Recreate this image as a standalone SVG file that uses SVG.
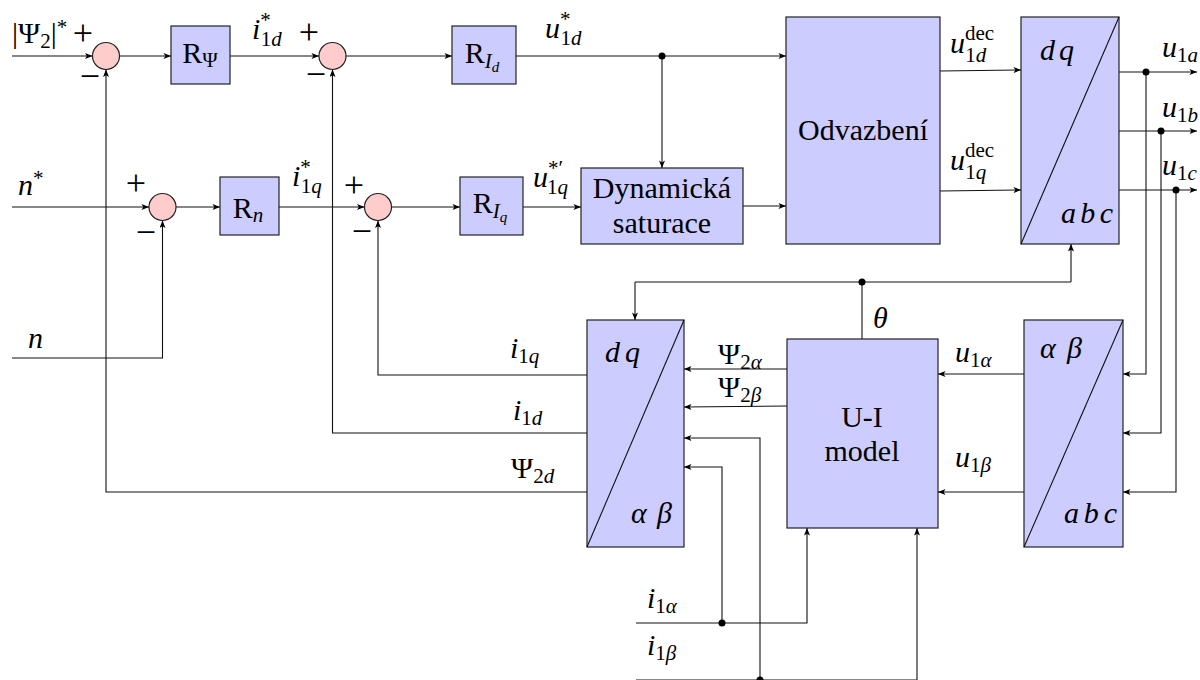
<svg xmlns="http://www.w3.org/2000/svg" width="1200" height="680" viewBox="0 0 1200 680">
<style>
.blk{fill:#ccccff;stroke:#222;stroke-width:1.2}
.sum{fill:#ffcccc;stroke:#222;stroke-width:1.2}
.ln{fill:none;stroke:#111;stroke-width:1.1}
.ar{fill:none;stroke:#111;stroke-width:1.1;marker-end:url(#a)}
.dot{fill:#000}
.t{font-family:"Liberation Serif",serif;font-size:30px;fill:#000}
.pm{font-family:"Liberation Serif",serif;font-size:36px;fill:#000;text-anchor:middle}
.m{font-style:italic}
.s{font-size:21px}
.ss{font-size:15px}
</style>
<defs>
<marker id="a" viewBox="0 0 10 8" refX="10" refY="4" markerWidth="8" markerHeight="6" orient="auto" markerUnits="userSpaceOnUse"><path d="M0,0 L10,4 L0,8 L2.5,4 z" fill="#000"/></marker>
</defs>

<g id="connectors">
<line class="ar" x1="12" y1="56" x2="92.5" y2="56"/>
<line class="ar" x1="119.5" y1="56" x2="171" y2="56"/>
<line class="ar" x1="230" y1="56" x2="319" y2="56"/>
<line class="ar" x1="346" y1="56" x2="452" y2="56"/>
<line class="ar" x1="516" y1="56" x2="786" y2="56"/>
<line class="ar" x1="662" y1="56" x2="662" y2="168"/>
<line class="ar" x1="12" y1="207" x2="149" y2="207"/>
<line class="ar" x1="176" y1="207" x2="220" y2="207"/>
<line class="ar" x1="279" y1="207" x2="364.5" y2="207"/>
<line class="ar" x1="391.5" y1="207" x2="460" y2="207"/>
<line class="ar" x1="523" y1="207" x2="581" y2="207"/>
<line class="ar" x1="743" y1="206" x2="786" y2="206"/>
<line class="ar" x1="940" y1="71" x2="1021" y2="70"/>
<line class="ar" x1="940" y1="191" x2="1021" y2="190"/>
<line class="ar" x1="1119" y1="72" x2="1197" y2="72"/>
<line class="ar" x1="1119" y1="131" x2="1197" y2="131"/>
<line class="ar" x1="1119" y1="190" x2="1197" y2="190"/>
<polyline class="ar" points="1146,72 1146,374 1123,374"/>
<polyline class="ar" points="1161,131 1161,433 1123,433"/>
<polyline class="ar" points="1176,190 1176,492 1123,492"/>
<line class="ar" x1="1024" y1="374" x2="938" y2="374"/>
<line class="ar" x1="1024" y1="492" x2="938" y2="492"/>
<line class="ln" x1="862" y1="339" x2="862" y2="282"/>
<line class="ln" x1="635" y1="282" x2="1071" y2="282"/>
<line class="ar" x1="635" y1="282" x2="635" y2="320"/>
<line class="ar" x1="1071" y1="282" x2="1071" y2="244"/>
<line class="ar" x1="787" y1="369" x2="684" y2="369"/>
<line class="ar" x1="787" y1="406" x2="684" y2="407"/>
<line class="ln" x1="636" y1="680" x2="917" y2="680"/>
<polyline class="ar" points="760,680 760,438 684,438"/>
<line class="ar" x1="917" y1="680" x2="917" y2="528"/>
<polyline class="ar" points="636,623 807,623 807,528"/>
<polyline class="ar" points="722,623 722,467 684,467"/>
<polyline class="ar" points="587,375 378,375 378,220.5"/>
<polyline class="ar" points="587,433 332.5,433 332.5,69.5"/>
<polyline class="ar" points="587,492 106,492 106,69.5"/>
<polyline class="ar" points="12,358 162.5,358 162.5,220.5"/>
<circle class="dot" cx="662" cy="56" r="3.5"/>
<circle class="dot" cx="1146" cy="72" r="3.5"/>
<circle class="dot" cx="1161" cy="131" r="3.5"/>
<circle class="dot" cx="1176" cy="190" r="3.5"/>
<circle class="dot" cx="862" cy="282" r="3.5"/>
<circle class="dot" cx="722" cy="623" r="3.5"/>
<circle class="dot" cx="760" cy="680" r="3.5"/>
</g>

<g id="sum1"><circle class="sum" cx="106" cy="56" r="13.5"/><text class="pm" x="83" y="45">+</text><text class="pm" x="90" y="88">−</text></g>
<g id="sum2"><circle class="sum" cx="332.5" cy="56" r="13.5"/><text class="pm" x="309" y="44">+</text><text class="pm" x="316" y="86">−</text></g>
<g id="sum3"><circle class="sum" cx="162.5" cy="207" r="13.5"/><text class="pm" x="136" y="195">+</text><text class="pm" x="146" y="244">−</text></g>
<g id="sum4"><circle class="sum" cx="378" cy="207" r="13.5"/><text class="pm" x="354" y="197">+</text><text class="pm" x="362" y="243">−</text></g>

<g id="RPsi"><rect class="blk" x="171" y="26" width="59" height="58"/><text class="t" x="200" y="63" text-anchor="middle">R<tspan class="s" dy="4">Ψ</tspan></text></g>
<g id="RId"><rect class="blk" x="452" y="26" width="64" height="58"/><text class="t" x="482" y="63" text-anchor="middle">R<tspan class="s m" dy="5">I</tspan><tspan class="ss m" dy="4">d</tspan></text></g>
<g id="Rn"><rect class="blk" x="220" y="177" width="59" height="58"/><text class="t" x="248" y="218" text-anchor="middle">R<tspan class="s m" dy="4">n</tspan></text></g>
<g id="RIq"><rect class="blk" x="460" y="177" width="63" height="58"/><text class="t" x="490" y="213" text-anchor="middle">R<tspan class="s m" dy="5">I</tspan><tspan class="ss m" dy="4">q</tspan></text></g>
<g id="dynsat"><rect class="blk" x="581" y="168" width="162" height="76"/><text class="t" x="662" y="198" text-anchor="middle">Dynamická</text><text class="t" x="662" y="233" text-anchor="middle">saturace</text></g>
<g id="odvazbeni"><rect class="blk" x="786" y="17" width="154" height="227"/><text class="t" x="863" y="140" text-anchor="middle">Odvazbení</text></g>
<g id="dq_abc"><rect class="blk" x="1021" y="17" width="98" height="227"/><line class="ln" x1="1021" y1="244" x2="1119" y2="17"/><text class="t m" x="1040" y="60" textLength="34" lengthAdjust="spacing">d q</text><text class="t m" x="1061" y="223" textLength="52" lengthAdjust="spacing">a b c</text></g>
<g id="dq_ab"><rect class="blk" x="587" y="320" width="97" height="227"/><line class="ln" x1="587" y1="547" x2="684" y2="320"/><text class="t m" x="605" y="362" textLength="35" lengthAdjust="spacing">d q</text><text class="t m" x="631" y="523" textLength="41" lengthAdjust="spacing">α β</text></g>
<g id="ui_model"><rect class="blk" x="787" y="339" width="151" height="189"/><text class="t" x="862" y="427" text-anchor="middle">U-I</text><text class="t" x="862" y="461" text-anchor="middle">model</text></g>
<g id="ab_abc"><rect class="blk" x="1024" y="320" width="99" height="227"/><line class="ln" x1="1024" y1="547" x2="1123" y2="320"/><text class="t m" x="1040" y="358" textLength="42" lengthAdjust="spacing">α β</text><text class="t m" x="1064" y="523" textLength="53" lengthAdjust="spacing">a b c</text></g>

<g id="labels">
<text class="t" x="12" y="43">|Ψ<tspan class="s" dy="5">2</tspan><tspan dy="-5">|</tspan><tspan class="s" dy="-9">*</tspan></text>
<text class="t" x="252" y="39"><tspan class="m">i</tspan><tspan class="s" dy="-12">*</tspan><tspan class="s" dx="-10" dy="19">1</tspan><tspan class="s m">d</tspan></text>
<text class="t" x="545" y="38"><tspan class="m">u</tspan><tspan class="s" dy="-12">*</tspan><tspan class="s" dx="-10" dy="19">1</tspan><tspan class="s m">d</tspan></text>
<text class="t" x="950" y="53"><tspan class="m">u</tspan><tspan class="s" dy="-13">dec</tspan><tspan class="s" dx="-29" dy="22">1</tspan><tspan class="s m">d</tspan></text>
<text class="t" x="950" y="170"><tspan class="m">u</tspan><tspan class="s" dy="-13">dec</tspan><tspan class="s" dx="-29" dy="22">1</tspan><tspan class="s m">q</tspan></text>
<text class="t" x="1162" y="57"><tspan class="m">u</tspan><tspan class="s" dy="5">1</tspan><tspan class="s m">a</tspan></text>
<text class="t" x="1162" y="117"><tspan class="m">u</tspan><tspan class="s" dy="5">1</tspan><tspan class="s m">b</tspan></text>
<text class="t" x="1162" y="175"><tspan class="m">u</tspan><tspan class="s" dy="5">1</tspan><tspan class="s m">c</tspan></text>
<text class="t" x="18" y="195"><tspan class="m">n</tspan><tspan class="s" dy="-10">*</tspan></text>
<text class="t" x="292" y="186"><tspan class="m">i</tspan><tspan class="s" dy="-12">*</tspan><tspan class="s" dx="-10" dy="19">1</tspan><tspan class="s m">q</tspan></text>
<text class="t" x="533" y="187"><tspan class="m">u</tspan><tspan class="s" dy="-12">*′</tspan><tspan class="s" dx="-16" dy="19">1</tspan><tspan class="s m">q</tspan></text>
<text class="t m" x="28" y="348">n</text>
<text class="t m" x="873" y="328">θ</text>
<text class="t" x="718" y="364">Ψ<tspan class="s" dy="5">2</tspan><tspan class="s m">α</tspan></text>
<text class="t" x="718" y="397">Ψ<tspan class="s" dy="5">2</tspan><tspan class="s m">β</tspan></text>
<text class="t" x="955" y="362"><tspan class="m">u</tspan><tspan class="s" dy="5">1</tspan><tspan class="s m">α</tspan></text>
<text class="t" x="955" y="467"><tspan class="m">u</tspan><tspan class="s" dy="5">1</tspan><tspan class="s m">β</tspan></text>
<text class="t" x="510" y="358"><tspan class="m">i</tspan><tspan class="s" dy="5">1</tspan><tspan class="s m">q</tspan></text>
<text class="t" x="513" y="420"><tspan class="m">i</tspan><tspan class="s" dy="5">1</tspan><tspan class="s m">d</tspan></text>
<text class="t" x="511" y="478">Ψ<tspan class="s" dy="5">2</tspan><tspan class="s m">d</tspan></text>
<text class="t" x="647" y="608"><tspan class="m">i</tspan><tspan class="s" dy="5">1</tspan><tspan class="s m">α</tspan></text>
<text class="t" x="647" y="655"><tspan class="m">i</tspan><tspan class="s" dy="5">1</tspan><tspan class="s m">β</tspan></text>
</g>
</svg>
